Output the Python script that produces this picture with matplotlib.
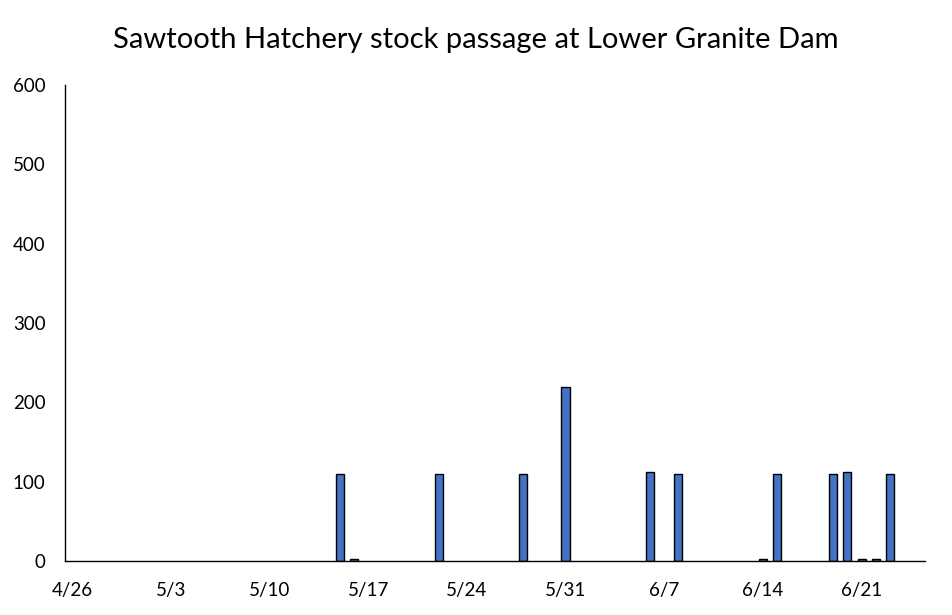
import numpy as np
import pandas as pd
import matplotlib
matplotlib.use("Agg")
import matplotlib.pyplot as plt

# daily passage, 4/26 - 6/25
dias = pd.date_range("2024-04-26", "2024-06-25", freq="D")
fechas_pase = ["05-15", "05-16", "05-22", "05-28", "05-31", "06-06", "06-08",
               "06-14", "06-15", "06-19", "06-20", "06-21", "06-22", "06-23"]
conteos = [110, 2, 110, 110, 219, 112, 110, 2, 110, 110, 112, 2, 2, 110]
etiquetas_x = ["4/26", "5/3", "5/10", "5/17", "5/24", "5/31", "6/7", "6/14", "6/21"]

serie = pd.Series(0.0, index=dias)
for f, c in zip(fechas_pase, conteos):
    serie[pd.Timestamp("2024-" + f)] = c

plt.rcParams['font.family'] = ['Lato', 'DejaVu Sans']

fig = plt.figure(figsize=(9.52, 6.15), dpi=100)
ax = fig.add_axes([65/952, 1-561/615, (925-65)/952, (561-85)/615])

x = np.arange(len(dias))
mask = serie.values > 0
ax.bar(x[mask], serie.values[mask], width=0.57, color='#4472C4',
       edgecolor='black', linewidth=1.0)

ax.set_xlim(-0.5, len(dias) - 0.5)
ax.set_ylim(0, 600)
ax.set_yticks(range(0, 601, 100))
pos_ticks = [list(dias).index(pd.Timestamp(f"2024-{e.split('/')[0].zfill(2)}-{e.split('/')[1].zfill(2)}"))
             for e in etiquetas_x]
ax.set_xticks(pos_ticks)
ax.set_xticklabels(etiquetas_x)
ax.tick_params(axis='both', length=0, labelsize=13.5, colors='black')
ax.tick_params(axis='y', pad=14)
ax.tick_params(axis='x', pad=15)

for lado in ['top', 'right']:
    ax.spines[lado].set_visible(False)
ax.spines['left'].set_linewidth(1.0)
ax.spines['bottom'].set_linewidth(1.0)

fig.text(0.5, 1-40/615, 'Sawtooth Hatchery stock passage at Lower Granite Dam',
         ha='center', va='center', fontsize=21)

fig.savefig('out.png', dpi=100)
